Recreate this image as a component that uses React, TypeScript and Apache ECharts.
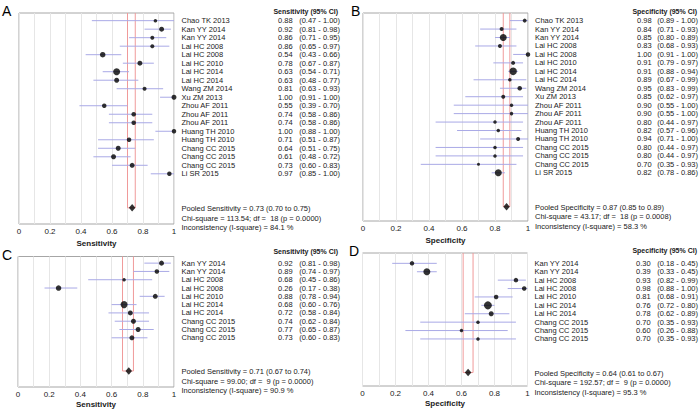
import React, { useEffect, useRef } from "react";
import * as echarts from "echarts";

// ---------- Panel A: sensitivity, 19 studies ----------
const studiesA = ["Chao TK 2013", "Kan YY 2014", "Kan YY 2014", "Lai HC 2008", "Lai HC 2008", "Lai HC 2010", "Lai HC 2014", "Lai HC 2014", "Wang ZM 2014", "Xu ZM 2013", "Zhou AF 2011", "Zhou AF 2011", "Zhou AF 2011", "Huang TH 2010", "Huang TH 2010", "Chang CC 2015", "Chang CC 2015", "Chang CC 2015", "Li SR 2015"];
const sensA = [0.88, 0.92, 0.86, 0.86, 0.54, 0.78, 0.63, 0.63, 0.81, 1.0, 0.55, 0.74, 0.74, 1.0, 0.71, 0.64, 0.61, 0.73, 0.97];
const sensALow = [0.47, 0.81, 0.71, 0.65, 0.43, 0.67, 0.54, 0.48, 0.63, 0.91, 0.39, 0.58, 0.58, 0.88, 0.51, 0.51, 0.48, 0.6, 0.85];
const sensAHigh = [1.0, 0.98, 0.95, 0.97, 0.66, 0.87, 0.71, 0.77, 0.93, 1.0, 0.7, 0.86, 0.86, 1.0, 0.87, 0.75, 0.72, 0.83, 1.0];
const weightA = [3.5, 5, 4, 4, 5.5, 5, 7, 5, 4, 5, 4.5, 4.5, 4.5, 4.5, 4.5, 5, 5, 5, 4.5];
const pooledA = [0.73, 0.7, 0.75];
const hetA = [113.54, 18, 0.0, 84.1];

// ---------- Panel B: specificity, 19 studies ----------
const studiesB = studiesA;
const specB = [0.98, 0.84, 0.85, 0.83, 1.0, 0.91, 0.91, 0.89, 0.95, 0.85, 0.9, 0.9, 0.8, 0.82, 0.94, 0.8, 0.8, 0.7, 0.82];
const specBLow = [0.89, 0.71, 0.8, 0.68, 0.91, 0.79, 0.88, 0.67, 0.83, 0.62, 0.55, 0.55, 0.44, 0.57, 0.71, 0.44, 0.44, 0.35, 0.78];
const specBHigh = [1.0, 0.93, 0.89, 0.93, 1.0, 0.97, 0.94, 0.99, 0.99, 0.97, 1.0, 1.0, 0.97, 0.96, 1.0, 0.97, 0.97, 0.93, 0.86];
const weightB = [4, 4, 7, 4, 4.5, 4, 7.5, 3.5, 4.5, 4, 3.5, 3.5, 3.5, 3.5, 4, 3.5, 3.5, 3, 7];
const pooledB = [0.87, 0.85, 0.89];
const hetB = [43.17, 18, 0.0008, 58.3];

// ---------- Panel C: sensitivity, 10 studies ----------
const studiesC = ["Kan YY 2014", "Kan YY 2014", "Lai HC 2008", "Lai HC 2008", "Lai HC 2010", "Lai HC 2014", "Lai HC 2014", "Chang CC 2015", "Chang CC 2015", "Chang CC 2015"];
const sensC = [0.92, 0.89, 0.68, 0.26, 0.88, 0.68, 0.72, 0.74, 0.77, 0.73];
const sensCLow = [0.81, 0.74, 0.45, 0.17, 0.78, 0.6, 0.58, 0.62, 0.65, 0.6];
const sensCHigh = [0.98, 0.97, 0.86, 0.38, 0.94, 0.76, 0.84, 0.84, 0.87, 0.83];
const weightC = [5, 4.5, 3.5, 5.5, 5, 7, 5, 5, 5, 5];
const pooledC = [0.71, 0.67, 0.74];
const hetC = [99.0, 9, 0.0, 90.9];

// ---------- Panel D: specificity, 10 studies ----------
const studiesD = studiesC;
const specD = [0.3, 0.39, 0.93, 0.98, 0.81, 0.76, 0.78, 0.7, 0.6, 0.7];
const specDLow = [0.18, 0.33, 0.82, 0.88, 0.68, 0.72, 0.62, 0.35, 0.26, 0.35];
const specDHigh = [0.45, 0.45, 0.99, 1.0, 0.91, 0.8, 0.89, 0.93, 0.88, 0.93];
const weightD = [4.5, 7, 4.5, 4.5, 4.5, 8, 5, 3.5, 3.5, 3.5];
const pooledD = [0.64, 0.61, 0.67];
const hetD = [192.57, 9, 0.0, 95.3];

const axisTicks = ["0", "0.2", "0.4", "0.6", "0.8", "1"];

const FONT = '"Liberation Sans", Arial, Helvetica, sans-serif';
const TEXT = "#1a1a1a";
const CI_COLOR = "#a9a9e6";
const RED = "#f09a9a";
const GRIDLINE = "#e6e6e6";
const BORDER = "#a6a6a6";
const FS = 7.5;

const panels = [
  {
    letter: "A", measure: "Sensitivity", names: studiesA, est: sensA, lo: sensALow, hi: sensAHigh, w: weightA, pooled: pooledA, het: hetA,
    L: { left: 19, top: 13, width: 155, height: 211, yMin: -0.9, yMax: 23.9, nameX: 181.5, valX: 278, ciRight: 340, headX: 338, headY: 11, letterX: 2, letterY: 4 },
  },
  {
    letter: "B", measure: "Specificity", names: studiesB, est: specB, lo: specBLow, hi: specBHigh, w: weightB, pooled: pooledB, het: hetB,
    L: { left: 363, top: 13, width: 165, height: 208, yMin: -0.9, yMax: 23.7, nameX: 535, valX: 637, ciRight: 698, headX: 697, headY: 11, letterX: 351, letterY: 4 },
  },
  {
    letter: "C", measure: "Sensitivity", names: studiesC, est: sensC, lo: sensCLow, hi: sensCHigh, w: weightC, pooled: pooledC, het: hetC,
    L: { left: 18, top: 256.5, width: 156, height: 130.5, yMin: -0.8, yMax: 14.93, nameX: 181.5, valX: 278, ciRight: 340, headX: 338, headY: 251, letterX: 2, letterY: 248 },
  },
  {
    letter: "D", measure: "Specificity", names: studiesD, est: specD, lo: specDLow, hi: specDHigh, w: weightD, pooled: pooledD, het: hetD,
    L: { left: 362.5, top: 253, width: 165, height: 133, yMin: -1.23, yMax: 14.6, nameX: 534.5, valX: 636, ciRight: 698, headX: 697, headY: 250, letterX: 349, letterY: 244 },
  },
];

const f2 = (v: number) => v.toFixed(2);

function txt(x: number, y: number, text: string, align: string, bold = false) {
  return {
    type: "text",
    x,
    y,
    silent: true,
    style: {
      text,
      fill: TEXT,
      fontSize: FS,
      fontFamily: FONT,
      fontWeight: bold ? "bold" : "normal",
      align,
      verticalAlign: "middle",
      textAlign: align,
      textVerticalAlign: "middle",
    },
  };
}

function buildOption() {
  const grid: any[] = [];
  const xAxis: any[] = [];
  const yAxis: any[] = [];
  const series: any[] = [];
  const graphic: any[] = [];

  panels.forEach((p, k) => {
    const L = p.L;
    const n = p.names.length;
    const pooledRow = n + 3;
    grid.push({ left: L.left, top: L.top, width: L.width, height: L.height, show: true, borderColor: BORDER, borderWidth: 1, containLabel: false });
    xAxis.push({
      gridIndex: k, type: "value", min: 0, max: 1, interval: 0.2,
      axisLine: { show: false }, axisTick: { show: false },
      splitLine: { show: true, lineStyle: { color: GRIDLINE, width: 1 } },
      minorTick: { show: false, splitNumber: 2 },
      minorSplitLine: { show: true, lineStyle: { color: GRIDLINE, width: 1 } },
      axisLabel: {
        fontSize: 8, color: TEXT, fontFamily: FONT, margin: 3,
        formatter: (v: number) => axisTicks[Math.round(v * 5)] ?? "",
      },
      name: p.measure, nameLocation: "middle", nameGap: 13,
      nameTextStyle: { fontSize: 8, fontWeight: "bold", color: TEXT, fontFamily: FONT },
    });
    yAxis.push({ gridIndex: k, type: "value", min: L.yMin, max: L.yMax, inverse: true, show: false });

    // pooled CI reference lines (red)
    series.push({
      type: "custom", xAxisIndex: k, yAxisIndex: k, silent: true, z: 2,
      data: [[p.pooled[1], p.pooled[2], pooledRow]],
      encode: { x: [0, 1], y: 2 },
      renderItem: (params: any, api: any) => {
        const lo = api.value(0), hi = api.value(1), row = api.value(2);
        const tl = api.coord([lo, L.yMin]);
        const bl = api.coord([lo, row]);
        const br = api.coord([hi, row]);
        const tr = api.coord([hi, L.yMin]);
        return { type: "polyline", shape: { points: [tl, bl, br, tr] }, style: { stroke: RED, lineWidth: 1, fill: "none" } };
      },
    });

    // study CI lines
    series.push({
      type: "custom", xAxisIndex: k, yAxisIndex: k, silent: true, z: 3,
      data: p.names.map((_, i) => [p.lo[i], p.hi[i], i]),
      encode: { x: [0, 1], y: 2 },
      renderItem: (params: any, api: any) => {
        const a = api.coord([api.value(0), api.value(2)]);
        const b = api.coord([api.value(1), api.value(2)]);
        return { type: "line", shape: { x1: a[0], y1: a[1], x2: b[0], y2: b[1] }, style: { stroke: CI_COLOR, lineWidth: 1 } };
      },
    });

    // point estimates
    series.push({
      type: "scatter", xAxisIndex: k, yAxisIndex: k, silent: true, z: 4, clip: false,
      data: p.est.map((v, i) => [v, i, p.w[i]]),
      symbol: "circle",
      symbolSize: (val: number[]) => val[2],
      itemStyle: { color: "#000" },
    });

    // pooled diamond
    series.push({
      type: "scatter", xAxisIndex: k, yAxisIndex: k, silent: true, z: 5, clip: false,
      data: [[p.pooled[0], pooledRow]],
      symbol: "diamond", symbolSize: [6.5, 7.5],
      itemStyle: { color: "#000" },
    });

    // study text rows
    series.push({
      type: "custom", xAxisIndex: k, yAxisIndex: k, silent: true, z: 6,
      data: p.names.map((_, i) => [0, i]),
      encode: { x: 0, y: 1 },
      renderItem: (params: any, api: any) => {
        const i = params.dataIndex;
        const y = api.coord([0, api.value(1)])[1];
        return {
          type: "group",
          children: [
            txt(L.nameX, y, p.names[i], "left"),
            txt(L.valX, y, f2(p.est[i]), "left"),
            txt(L.ciRight, y, `(${f2(p.lo[i])} - ${f2(p.hi[i])})`, "right"),
          ],
        };
      },
    });

    // pooled / heterogeneity statistics
    const statLines = [
      `Pooled ${p.measure} = ${f2(p.pooled[0])} (${f2(p.pooled[1])} to ${f2(p.pooled[2])})`,
      `Chi-square = ${f2(p.het[0])}; df =  ${p.het[1]} (p = ${p.het[2].toFixed(4)})`,
      `Inconsistency (I-square) = ${p.het[3].toFixed(1)} %`,
    ];
    series.push({
      type: "custom", xAxisIndex: k, yAxisIndex: k, silent: true, z: 6,
      data: [[0, pooledRow]],
      encode: { x: 0, y: 1 },
      renderItem: (params: any, api: any) => {
        const y = api.coord([0, api.value(1)])[1] + 1;
        return { type: "group", children: statLines.map((s, j) => txt(L.nameX, y + j * 9.3, s, "left")) };
      },
    });

    graphic.push({
      type: "text", left: L.letterX, top: L.letterY, silent: true,
      style: { text: p.letter, fill: "#000", fontSize: 14, fontFamily: FONT },
    });
    graphic.push({
      type: "text", x: L.headX, y: L.headY, silent: true,
      style: { text: `${p.measure} (95% CI)`, fill: TEXT, fontSize: 7, fontWeight: "bold", fontFamily: FONT, align: "right", verticalAlign: "middle", textAlign: "right", textVerticalAlign: "middle" },
    });
  });

  return { animation: false, backgroundColor: "#fff", grid, xAxis, yAxis, series, graphic };
}

export default function App() {
  const ref = useRef<HTMLDivElement>(null);
  useEffect(() => {
    document.body.style.margin = "0";
    if (!ref.current) return;
    const chart = echarts.init(ref.current, undefined, { renderer: "svg" });
    chart.setOption(buildOption() as any);
    return () => chart.dispose();
  }, []);
  return <div ref={ref} style={{ width: 700, height: 409, position: "absolute", left: 0, top: 0 }} />;
}
